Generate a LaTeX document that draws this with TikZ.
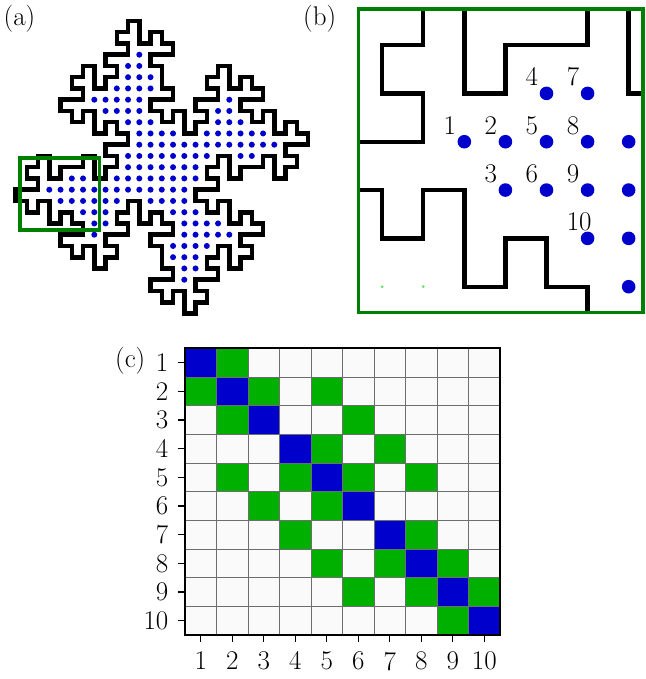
\documentclass[tikz,border=0pt]{standalone}
\usepackage{fontspec}
\definecolor{dotblue}{RGB}{0,0,205}
\definecolor{cellblue}{RGB}{0,0,204}
\definecolor{cellgreen}{RGB}{0,176,0}
\definecolor{boxgreen}{RGB}{0,128,0}
\definecolor{cellwhite}{RGB}{250,250,250}
\definecolor{gridgrey}{RGB}{110,110,110}
\definecolor{lightdot}{RGB}{100,225,100}
% level-2 Minkowski generator for each heading
\def\gN{-- ++(0,1) -- ++(-1,0) -- ++(0,1) -- ++(2,0) -- ++(0,1) -- ++(-1,0) -- ++(0,1)}
\def\gE{-- ++(1,0) -- ++(0,1) -- ++(1,0) -- ++(0,-2) -- ++(1,0) -- ++(0,1) -- ++(1,0)}
\def\gS{-- ++(0,-1) -- ++(1,0) -- ++(0,-1) -- ++(-2,0) -- ++(0,-1) -- ++(1,0) -- ++(0,-1)}
\def\gW{-- ++(-1,0) -- ++(0,-1) -- ++(-1,0) -- ++(0,2) -- ++(-1,0) -- ++(0,-1) -- ++(-1,0)}
\def\fractalpath{(0,0) \gN\gW\gN\gE\gE\gN\gW\gN \gE\gN\gE\gS\gS\gE\gN\gE \gS\gE\gS\gW\gW\gS\gE\gS \gW\gS\gW\gN\gN\gW\gS\gW -- cycle}
\tikzset{
  curvea/.style={line width=4.6pt, line join=miter},
  curveb/.style={line width=4.4pt, line join=miter},
  frame/.style={draw=boxgreen, line width=3.6pt},
  lbl/.style={anchor=base west, inner sep=0pt},
  num/.style={anchor=base west, inner sep=0pt, xshift=-21pt, yshift=7.5pt},
}
\begin{document}
\begin{tikzpicture}[x=1pt, y=-1pt, font=\fontsize{27}{32}\selectfont]
\useasboundingbox (0,0) rectangle (645,679);
\fill[white] (0,0) rectangle (645,679);

% ---------------- (a)
\node[lbl] (la) at (3.5,25.3) {(a)};
\begin{scope}[shift={(71.8,257.2)}, x=11.25pt, y=11.25pt]
  \draw[curvea] \fractalpath;
  \foreach \a in {0,90,180,270}{
    \begin{scope}[rotate around={\a:(8,8)}]
      \foreach \px/\py in {2/2, 2/3, 3/3, 1/4, 2/4, 3/4, -1/5, 0/5, 1/5, 2/5, 3/5, 4/5, 7/5,
        -2/6, -1/6, 0/6, 1/6, 2/6, 3/6, 4/6, 5/6, 6/6, 7/6, 0/7, 1/7, 4/7, 5/7, 6/7, 7/7, 5/8, 6/8, 7/8}
        {\fill[dotblue] (\px,\py) circle[radius=3pt];}
    \end{scope}
  }
  \fill[dotblue] (8,8) circle[radius=3pt];
\end{scope}
\draw[frame] (20,157.8) rectangle (99.5,230);

% ---------------- (b)
\node[lbl] (lb) at (303,25.3) {(b)};
\begin{scope}
  \clip (358.3,9.3) rectangle (643,312.3);
  \begin{scope}[shift={(546.5,431.7)}, x=41.08pt, y=48.33pt]
    \draw[curveb] \fractalpath;
    \foreach \px/\py in {2/3, 1/4, 2/4, -1/5, 0/5, 1/5, 2/5, -2/6, -1/6, 0/6, 1/6, 2/6, 0/7, 1/7}
      {\fill[dotblue] (\px,\py) circle[radius=6.8pt];}
    \foreach \px/\py in {-4/3, -3/3}
      {\fill[lightdot] (\px,\py) circle[radius=1.5pt];}
    \foreach \n/\px/\py in {1/-2/6, 2/-1/6, 3/-1/5, 4/0/7, 5/0/6, 6/0/5, 7/1/7, 8/1/6, 9/1/5, 10/1/4}
      {\node[num] (n\n) at (\px,\py) {\n};}
  \end{scope}
\end{scope}
\draw[frame] (358.3,9.3) rectangle (643,312.3);

% ---------------- (c)
\node[lbl] (lc) at (115,367) {(c)};
\begin{scope}[shift={(185,348.3)}, x=31.5pt, y=-28.67pt]
  \fill[cellwhite] (0,0) rectangle (10,10);
  \foreach \r/\c in {1/2, 2/1, 2/3, 2/5, 3/2, 3/6, 4/5, 4/7, 5/2, 5/4, 5/6, 5/8, 6/3, 6/5,
      7/4, 7/8, 8/5, 8/7, 8/9, 9/6, 9/8, 9/10, 10/9}
    {\fill[cellgreen] (\c-1,\r-1) rectangle (\c,\r);}
  \foreach \i in {1,...,10}
    {\fill[cellblue] (\i-1,\i-1) rectangle (\i,\i);}
  \foreach \i in {1,...,9}
    {\draw[gridgrey, line width=0.9pt] (\i,0) -- (\i,10);
     \draw[gridgrey, line width=0.9pt] (0,\i) -- (10,\i);}
  \draw[line width=1.8pt] (0,0) rectangle (10,10);
  \foreach \i in {1,...,10}{
    \draw[line width=1.3pt] (\i-0.5,10) -- ++(0pt,-6.6pt);
    \draw[line width=1.3pt] (0,\i-0.5) -- ++(-6.6pt,0pt);
    \node[anchor=north, inner sep=0pt, yshift=-16.7pt] (xt\i) at (\i-0.5,10) {\i};
    \node[anchor=east, inner sep=0pt, xshift=-16.5pt] (yt\i) at (0,\i-0.5) {\i};
  }
\end{scope}
\end{tikzpicture}
\end{document}
